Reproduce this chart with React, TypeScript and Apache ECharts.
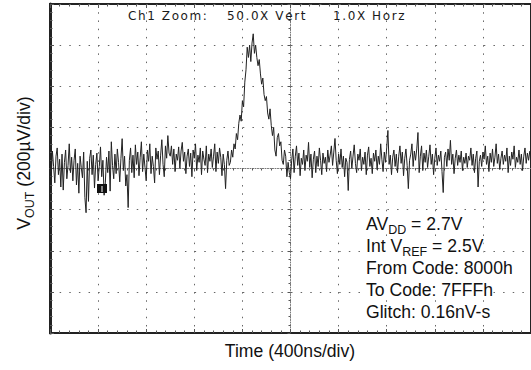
import React, { useEffect, useRef } from "react";
import * as echarts from "echarts";

// ---- data (µV vs time in ns) ----
const timeStartNs = -2000;
const timeStepNs = 10;
const noiseBefore1 = [
  20, -40, 85, 10, -70, 60, 100, -30, 45, -90,
  70, -105, 30, 90, -50, 15, 120, -20, 55, -60,
  40, 95, -80, 25, -120, 60, 5, -45, 80, -140,
  -215, 35, -160, 50, 90, -30, 65, -95, 20, 75,
  -60, 10, 105, -40, 40, -130, -70, 55, -20, 85,
  -110, 130, 15, -50, 70, -25, 95, 30, -65, 50,
  145, -10, 60, -85, -30, -190, 40, 100, -20, 65,
  -45, 115, 20, 80, -35, 55, 130, -15, 70, 5,
  -60, 90, 35, 120, -25, 60, 10, -70, 100, 45,
  85, -30, 65, 140, 20, -40, 110, 50, 160, 75,
];
const noiseBefore2 = [
  60, 110, 20, 95, -15, 70, 40, 105, 0, 85,
  127, 35, 80, -25, 60, 95, 10, 75, -40, 90,
  50, 120, -10, 65, 30, 100, -30, 85, 45, 15,
  110, -20, 70, 35, 95, 5, 60, 120, -15, 80,
  25, 100, 55, -35, 70, 20, -98, 40, 85, 15,
];
const glitch = [
  30, 90, 55, 120, 95, 170, 140, 220, 260, 230,
  330, 300, 420, 480, 590, 540, 600, 520, 610, 655,
  560, 600, 540, 500, 530, 460, 410, 440, 360, 330,
  350, 270, 240, 290, 210, 160, 200, 90, 60, 150,
  170, 110, 130, 40, 20, 90, 60, -40, 30, -20,
];
const noiseAfter1 = [
  -50, 40, 95, -20, 60, 110, 15, 75, -35, 50,
  20, 90, -10, 65, 35, 127, 5, 70, -45, 45,
  85, -20, 60, 10, 100, 40, -30, 75, 25, 55,
  -15, 90, 30, 65, 110, 15, 80, 146, 40, -25,
  70, 20, 95, 5, 60, -40, 50, 30, -107, 45,
  85, 0, 60, 115, 25, -20, 70, 40, 95, -10,
  55, 20, 80, -30, 65, 105, 10, 50, -25, 75,
  35, 90, -5, 60, 20, 120, 45, -15, 80, 30,
  100, 185, 20, 65, -30, 55, 90, 10, 70, -20,
  60, 110, 25, 80, -35, 50, 95, 15, -98, 40,
];
const noiseAfter2 = [
  70, 120, 10, 85, 40, 95, 175, -20, 60, 110,
  -10, 75, 30, 90, 5, 60, 115, 20, 70, -30,
  50, 100, 15, 65, 35, 85, -15, -117, 55, 80,
  10, 95, 40, 137, 20, 70, -25, 50, 90, 15,
  65, 30, 85, -10, 55, 25, 75, 5, 60, 40,
  100, 15, 70, -20, 50, 85, -90, 35, 65, 10,
  80, 45, 110, 20, 60, -15, 75, 30, 95, 10,
  55, 120, 25, 70, -5, 50, 85, 20, 65, 35,
  100, -20, 60, 15, 80, 45, 110, 5, 55, 30,
  90, 20, 70, -10, 60, 100, 25, 75, 40, 85,
];

const xMin = -2000;
const xMax = 2000;
const xInterval = 400;
const yMin = -800;
const yMax = 800;
const yInterval = 200;

const xTitle = "Time (400ns/div)";
const yTitle: [string, boolean][] = [["V", false], ["OUT", true], [" (200µV/div)", false]];
const header = [
  { text: "Ch1 Zoom:", x: 128 },
  { text: "50.0X Vert", x: 227 },
  { text: "1.0X Horz", x: 333 },
];
const notes: [string, boolean][][] = [
  [["AV", false], ["DD", true], [" = 2.7V", false]],
  [["Int V", false], ["REF", true], [" = 2.5V", false]],
  [["From Code: 8000h", false]],
  [["To Code: 7FFFh", false]],
  [["Glitch: 0.16nV-s", false]],
];

const SANS = '"Liberation Sans", Arial, Helvetica, sans-serif';
const MAIN = 17.6;
const SUB = 12.5;

let ctx: CanvasRenderingContext2D | null = null;
function measure(text: string, size: number, family: string) {
  if (!ctx) ctx = document.createElement("canvas").getContext("2d");
  if (!ctx) return text.length * size * 0.55;
  ctx.font = `${size}px ${family}`;
  return ctx.measureText(text).width;
}

function txt(x: number, y: number, text: string, size: number, family: string, fill = "#111", bg?: string) {
  const style: any = {
    text,
    font: `normal ${size}px ${family}`,
    fill,
    align: "left",
    textAlign: "left",
    verticalAlign: "middle",
    textVerticalAlign: "middle",
  };
  if (bg) {
    style.backgroundColor = bg;
    style.padding = [1, 0, 1, 0];
  }
  return { type: "text", x, y, z: 50, silent: true, style };
}

function richLine(x: number, y: number, segs: [string, boolean][], bg?: string) {
  const out: any[] = [];
  let cx = x;
  for (const [s, sub] of segs) {
    const size = sub ? SUB : MAIN;
    out.push(txt(cx, sub ? y + 5.5 : y, s, size, SANS, "#111", bg));
    cx += measure(s, size, SANS);
  }
  return { els: out, width: cx - x };
}

export default function App() {
  const ref = useRef<HTMLDivElement>(null);
  useEffect(() => {
    if (!ref.current) return;
    const chart = echarts.init(ref.current, undefined, { renderer: "svg" });

    const values = [...noiseBefore1, ...noiseBefore2, ...glitch, ...noiseAfter1, ...noiseAfter2];
    const points = values.map((v, i) => [timeStartNs + i * timeStepNs, v]);

    const graphics: any[] = [];
    const HF = '"DejaVu Sans", Verdana, sans-serif';
    for (const h of header) {
      let cx = h.x;
      for (const ch of h.text) {
        graphics.push(txt(cx, 15.5, ch, 12, HF, "#1a1a1a"));
        cx += measure(ch, 12, HF) + 1.6;
      }
    }
    notes.forEach((line, i) => {
      graphics.push(...richLine(366, 224 + i * 22, line, "#fff").els);
    });
    const xw = measure(xTitle, MAIN, SANS);
    graphics.push(txt(290 - xw / 2, 351, xTitle, MAIN, SANS));
    const yl = richLine(0, 0, yTitle);
    yl.els.forEach((e: any) => (e.x -= yl.width / 2));
    graphics.push({ type: "group", x: 24, y: 163, rotation: Math.PI / 2, children: yl.els });
    graphics.push({ type: "rect", z: 100, shape: { x: 97, y: 184, width: 10, height: 9 }, style: { fill: "#111" } });
    graphics.push({ type: "line", z: 101, shape: { x1: 102, y1: 186, x2: 102, y2: 192 }, style: { stroke: "#fff", lineWidth: 1 } });

    const tickStyle = { color: "#555", width: 1 };
    const hidden = { show: false };

    chart.setOption({
      animation: false,
      backgroundColor: "#fff",
      grid: { left: 50, top: 4, width: 482, height: 329, show: true, borderColor: "#222", borderWidth: 2, containLabel: false },
      xAxis: [
        {
          type: "value", min: xMin, max: xMax, interval: xInterval, position: "bottom",
          axisLine: { onZero: false, lineStyle: { color: "#222", width: 2 } },
          axisTick: { show: true, inside: true, length: 4, lineStyle: tickStyle },
          minorTick: { show: true, splitNumber: 5, length: 2.5, lineStyle: tickStyle },
          axisLabel: hidden,
          splitLine: { show: true, lineStyle: { color: "#666", width: 1, type: [1.5, 6.73] } },
        },
        {
          type: "value", min: xMin, max: xMax, interval: xInterval, position: "top",
          axisLine: { onZero: true, onZeroAxisIndex: 0, lineStyle: { color: "#777", width: 1, type: [1, 1.5] } },
          axisTick: { show: true, inside: true, length: 3, lineStyle: tickStyle },
          minorTick: { show: true, splitNumber: 5, length: 2, lineStyle: tickStyle },
          axisLabel: hidden, splitLine: hidden,
        },
        {
          type: "value", min: xMin, max: xMax, interval: xInterval, position: "top",
          axisLine: { onZero: false, show: false },
          axisTick: { show: true, inside: true, length: 4, lineStyle: tickStyle },
          minorTick: { show: true, splitNumber: 5, length: 2.5, lineStyle: tickStyle },
          axisLabel: hidden, splitLine: hidden,
        },
      ],
      yAxis: [
        {
          type: "value", min: yMin, max: yMax, interval: yInterval, position: "left",
          axisLine: { onZero: false, lineStyle: { color: "#222", width: 3 } },
          axisTick: { show: true, inside: true, length: 4, lineStyle: tickStyle },
          minorTick: { show: true, splitNumber: 5, length: 2.5, lineStyle: tickStyle },
          axisLabel: hidden,
          splitLine: { show: true, lineStyle: { color: "#666", width: 1, type: [1.5, 8.14] } },
        },
        {
          type: "value", min: yMin, max: yMax, interval: yInterval, position: "right",
          axisLine: { onZero: true, onZeroAxisIndex: 0, lineStyle: { color: "#777", width: 1, type: [1, 1.5] } },
          axisTick: { show: true, inside: true, length: 3, lineStyle: tickStyle },
          minorTick: { show: true, splitNumber: 5, length: 2, lineStyle: tickStyle },
          axisLabel: hidden, splitLine: hidden,
        },
      ],
      series: [
        {
          type: "line",
          xAxisIndex: 0,
          yAxisIndex: 0,
          data: points,
          symbol: "none",
          showSymbol: false,
          lineStyle: { color: "#222", width: 1 },
          z: 5,
        },
      ],
      graphic: graphics,
    });
    return () => chart.dispose();
  }, []);
  return <div ref={ref} style={{ position: "fixed", left: 0, top: 0, width: 531, height: 370, background: "#fff" }} />;
}
